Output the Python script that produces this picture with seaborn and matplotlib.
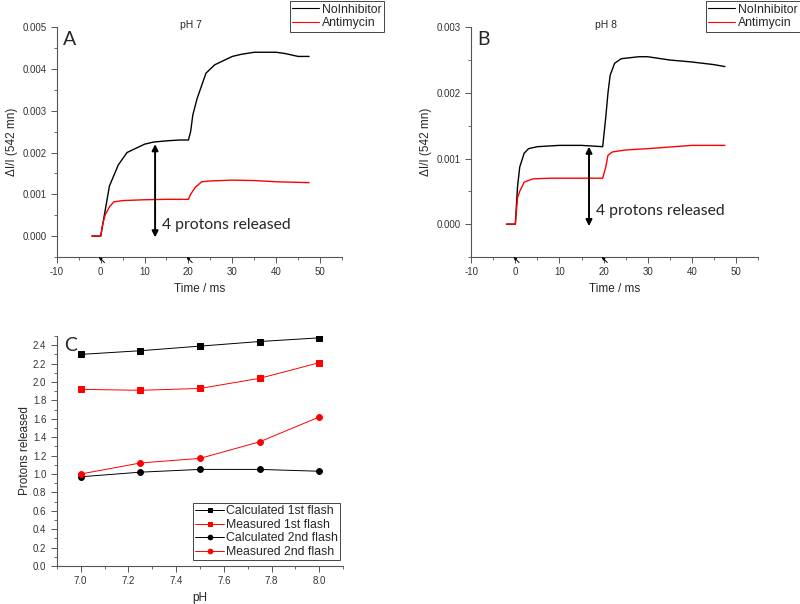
import matplotlib
matplotlib.use("Agg")
import matplotlib.pyplot as plt
import pandas as pd
import seaborn as sns
from matplotlib.ticker import MultipleLocator, FormatStrFormatter

# Panel A (pH 7) traces
a_t_black = [-2, -1, 0, 0.5, 1, 1.5, 2, 3, 4, 5, 6, 8, 10, 12, 15, 18, 20, 20.5, 21, 22, 23, 24, 25,
             26, 28, 30, 32, 35, 38, 40, 42, 45, 47.5]
a_black = [0.0, 0.0, 0.0, 0.0003, 0.0006, 0.0009, 0.0012, 0.00145, 0.0017, 0.00185, 0.002, 0.0021,
           0.0022, 0.00225, 0.00228, 0.0023, 0.0023, 0.0025, 0.0029, 0.0033, 0.0036, 0.0039, 0.004,
           0.0041, 0.0042, 0.0043, 0.00435, 0.0044, 0.0044, 0.0044, 0.00437, 0.0043, 0.0043]
a_t_red = [-2, -1, 0, 0.5, 1, 2, 3, 5, 10, 15, 20, 20.5, 21.5, 23, 25, 30, 35, 40, 47.5]
a_red = [0.0, 0.0, 0.0, 0.0003, 0.0005, 0.0007, 0.00082, 0.00085, 0.00087, 0.00088, 0.00088,
         0.001, 0.00116, 0.0013, 0.00132, 0.00134, 0.00133, 0.0013, 0.00128]

# Panel B (pH 8) traces
b_t_black = [-2, -1, 0, 0.5, 1, 2, 3, 5, 10, 15, 19.8, 20.5, 21, 21.5, 22.5, 24, 28, 30, 35, 40, 45, 47.5]
b_black = [0.0, 0.0, 0.0, 0.00057, 0.00087, 0.00108, 0.00115, 0.00118, 0.0012, 0.0012, 0.00118,
           0.00163, 0.002, 0.00227, 0.00245, 0.00252, 0.00255, 0.00255, 0.0025, 0.00247, 0.00243, 0.0024]
b_t_red = [-2, -1, 0, 0.5, 1, 2, 4, 8, 15, 19.8, 20.5, 21, 22, 25, 30, 40, 47.5]
b_red = [0.0, 0.0, 0.0, 0.0004, 0.0005, 0.00064, 0.00069, 0.0007, 0.0007, 0.0007, 0.00087,
         0.00105, 0.0011, 0.00113, 0.00115, 0.0012, 0.0012]

# Panel C
ph = [7.0, 7.25, 7.5, 7.75, 8.0]
calc_1st = [2.30, 2.34, 2.39, 2.44, 2.48]
meas_1st = [1.92, 1.91, 1.93, 2.04, 2.21]
calc_2nd = [0.97, 1.02, 1.05, 1.05, 1.03]
meas_2nd = [1.00, 1.12, 1.17, 1.35, 1.62]

sns.set_style("ticks")
plt.rcParams['font.family'] = ['Liberation Sans', 'DejaVu Sans']
plt.rcParams['axes.unicode_minus'] = False
plt.rcParams['axes.edgecolor'] = '#555555'
plt.rcParams['xtick.color'] = '#555555'
plt.rcParams['ytick.color'] = '#555555'
plt.rcParams['xtick.labelcolor'] = '#333333'
plt.rcParams['ytick.labelcolor'] = '#333333'

fig = plt.figure(figsize=(8, 6.04), dpi=100)
ax_a = fig.add_axes([0.071, 0.5745, 0.3565, 0.3805])
ax_b = fig.add_axes([0.589, 0.5745, 0.3585, 0.3805])
ax_c = fig.add_axes([0.071, 0.0629, 0.358, 0.3808])


def trace_panel(ax, tb, yb, tr, yr, ymax, title, letter, arrow_x, arrow_top, text_y, leg_x):
    df = pd.concat([
        pd.DataFrame({"t": tb, "v": yb, "s": "NoInhibitor"}),
        pd.DataFrame({"t": tr, "v": yr, "s": "Antimycin"}),
    ])
    sns.lineplot(data=df, x="t", y="v", hue="s", palette={"NoInhibitor": "black", "Antimycin": "red"},
                 lw=1.0, ax=ax, sort=False)
    ax.set_xlim(-10, 55)
    ax.set_ylim(-0.0005, ymax)
    ax.xaxis.set_major_locator(MultipleLocator(10))
    ax.xaxis.set_minor_locator(MultipleLocator(5))
    ax.yaxis.set_major_locator(MultipleLocator(0.001))
    ax.yaxis.set_minor_locator(MultipleLocator(0.0005))
    ax.yaxis.set_major_formatter(FormatStrFormatter('%.3f'))
    ax.tick_params(labelsize=7, length=4, width=0.7)
    ax.tick_params(which='minor', length=2, width=0.6)
    sns.despine(ax=ax)
    ax.set_xlabel("Time / ms", fontsize=8.5)
    ax.set_ylabel("ΔI/I (542 mn)", fontsize=8.5, labelpad=3)
    ax.text(0.47, 1.01, title, transform=ax.transAxes, fontsize=7.5, ha='center', va='center')
    ax.text(0.022, 0.985, letter, transform=ax.transAxes, fontsize=14, family='Lato', va='top')
    ax.annotate('', xy=(arrow_x, -0.00003), xytext=(arrow_x, arrow_top),
                arrowprops=dict(arrowstyle='<|-|>', lw=1.4, color='black', mutation_scale=9,
                                shrinkA=0, shrinkB=0))
    ax.text(arrow_x + 1.5, text_y, "4 protons released", fontsize=11.3, family='Lato', va='center')
    # flash markers at 0 and 20 ms
    for fx in [0, 20]:
        ax.annotate('', xy=(fx - 0.4, -0.0005), xycoords='data',
                    xytext=(4, -4), textcoords='offset points',
                    arrowprops=dict(arrowstyle='-|>', lw=0.7, color='black', mutation_scale=4,
                                    shrinkA=0, shrinkB=0),
                    annotation_clip=False)
    leg = ax.legend(loc='upper left', bbox_to_anchor=(leg_x, 0.998), bbox_transform=fig.transFigure,
                    fontsize=8.8, frameon=True, fancybox=False, edgecolor='#444444', framealpha=1,
                    handlelength=2.2, borderpad=0.2, labelspacing=0.12, handletextpad=0.2,
                    borderaxespad=0)
    leg.get_frame().set_linewidth(0.7)
    for line in leg.get_lines():
        line.set_linewidth(0.8)


trace_panel(ax_a, a_t_black, a_black, a_t_red, a_red, 0.005, "pH 7", "A", 12.4, 0.0022, 0.00026, 0.3625)
trace_panel(ax_b, b_t_black, b_black, b_t_red, b_red, 0.003, "pH 8", "B", 16.7, 0.00118, 0.0002, 0.8825)

# Panel C
series = [
    ("Calculated 1st flash", calc_1st, "black", "s"),
    ("Measured 1st flash", meas_1st, "red", "s"),
    ("Calculated 2nd flash", calc_2nd, "black", "o"),
    ("Measured 2nd flash", meas_2nd, "red", "o"),
]
for name, vals, col, mk in series:
    sns.lineplot(x=ph, y=vals, color=col, marker=mk, markersize=4.2, markeredgecolor=col,
                 lw=0.7, label=name, ax=ax_c)
ax_c.set_xlim(6.9, 8.1)
ax_c.set_ylim(0, 2.5)
ax_c.xaxis.set_major_locator(MultipleLocator(0.2))
ax_c.xaxis.set_minor_locator(MultipleLocator(0.1))
ax_c.yaxis.set_major_locator(MultipleLocator(0.2))
ax_c.yaxis.set_minor_locator(MultipleLocator(0.1))
ax_c.xaxis.set_major_formatter(FormatStrFormatter('%.1f'))
ax_c.yaxis.set_major_formatter(FormatStrFormatter('%.1f'))
ax_c.tick_params(labelsize=7, length=4, width=0.7)
ax_c.tick_params(which='minor', length=2, width=0.6)
sns.despine(ax=ax_c)
ax_c.set_xlabel("pH", fontsize=8.5)
ax_c.set_ylabel("Protons released", fontsize=8.5, labelpad=1)
ax_c.text(0.025, 0.995, "C", transform=ax_c.transAxes, fontsize=14, family='Lato', va='top')
leg = ax_c.legend(loc='lower right', bbox_to_anchor=(0.99, 0.025), fontsize=8.8, frameon=True,
                  fancybox=False, edgecolor='#444444', framealpha=1, handlelength=2.3,
                  borderpad=0.2, labelspacing=0.12, handletextpad=0.2, borderaxespad=0,
                  markerscale=0.8)
leg.get_frame().set_linewidth(0.7)

fig.savefig("out.png", dpi=100)
